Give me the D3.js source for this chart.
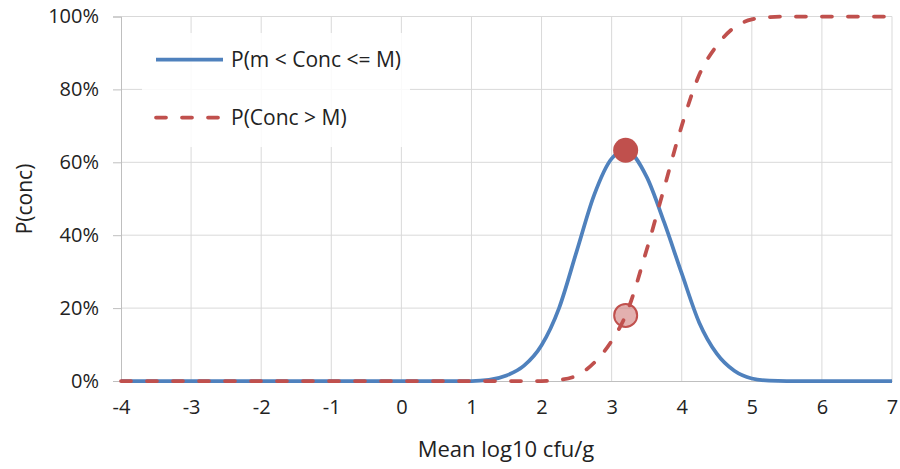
<!DOCTYPE html>
<html>
<head>
<meta charset="utf-8">
<script src="https://cdn.jsdelivr.net/npm/d3@7"></script>
<style>
  body { margin: 0; background: #fff; }
  text { font-family: "Open Sans", Lato, sans-serif; fill: #222; }
</style>
</head>
<body>
<script>
// values (x = mean log10 cfu/g, y = percent)
var xs      = [-4, 1, 1.25, 1.5, 1.75, 2, 2.25, 2.5, 2.75, 3, 3.2, 3.5, 3.75, 4, 4.25, 4.5, 4.75, 5, 5.25, 5.5, 7];
var pInside = [0, 0, 0.3, 1.5, 4.2, 9.8, 20, 35.5, 51, 61, 63.3, 56, 43.5, 29.5, 16, 7.5, 2.8, 0.7, 0.1, 0, 0];
var pAbove  = [0, 0, 0, 0, 0, 0, 0.3, 1.5, 5, 11, 18, 36, 53, 70, 84, 92, 97, 99.2, 99.8, 100, 100];
var seriesNames = ['P(m < Conc <= M)', 'P(Conc > M)'];
var xTicks = [-4, -3, -2, -1, 0, 1, 2, 3, 4, 5, 6, 7];
var yTicks = [0, 20, 40, 60, 80, 100];
var markX = [3.2, 3.2];
var markY = [63.3, 18];

var width = 900, height = 469;
var blue = '#4f81bd', red = '#c0504d';

var svg = d3.select('body').append('svg')
  .attr('width', width)
  .attr('height', height);

var x = d3.scaleLinear().domain([-4, 7]).range([121, 892]);
var y = d3.scaleLinear().domain([0, 100]).range([381, 16.5]);

// grid
svg.append('g').selectAll('line.v')
  .data(xTicks.slice(1))
  .enter().append('line')
  .attr('x1', function(d){ return x(d); })
  .attr('x2', function(d){ return x(d); })
  .attr('y1', y(100)).attr('y2', y(0))
  .attr('stroke', '#d9d9d9').attr('stroke-width', 1);

svg.append('g').selectAll('line.h')
  .data(yTicks.slice(1))
  .enter().append('line')
  .attr('x1', x(-4)).attr('x2', x(7))
  .attr('y1', function(d){ return y(d); })
  .attr('y2', function(d){ return y(d); })
  .attr('stroke', '#d9d9d9').attr('stroke-width', 1);

// y axis
var yAxis = d3.axisLeft(y).tickValues(yTicks)
  .tickFormat(function(d){ return d + '%'; })
  .tickSize(8).tickPadding(14);
var gy = svg.append('g').attr('transform', 'translate(' + x(-4) + ',0)').call(yAxis);
gy.select('.domain').attr('stroke', '#bfbfbf');
gy.selectAll('.tick line').attr('stroke', '#bfbfbf');
gy.selectAll('text').style('font-size', '20px').attr('fill', '#222');

// x axis (plain hyphen for negatives, like the original)
var xAxis = d3.axisBottom(x).tickValues(xTicks)
  .tickFormat(function(d){ return String(d); })
  .tickSize(0).tickPadding(19);
var gx = svg.append('g').attr('transform', 'translate(0,' + y(0) + ')').call(xAxis);
gx.select('.domain').attr('stroke', '#bfbfbf');
gx.selectAll('text').style('font-size', '20px').attr('fill', '#222');

// legend box (semi-opaque, like the excel plot area legend)
svg.append('rect')
  .attr('x', 142).attr('y', 33).attr('width', 268).attr('height', 114)
  .attr('fill', '#fff').attr('opacity', 0.85);

var line = d3.line()
  .x(function(d){ return x(d[0]); })
  .y(function(d){ return y(d[1]); })
  .curve(d3.curveMonotoneX);

svg.append('path')
  .datum(xs.map(function(v, i){ return [v, pInside[i]]; }))
  .attr('d', line)
  .attr('fill', 'none').attr('stroke', blue).attr('stroke-width', 3.75)
  .attr('stroke-linejoin', 'round');

svg.append('path')
  .datum(xs.map(function(v, i){ return [v, pAbove[i]]; }))
  .attr('d', line)
  .attr('fill', 'none').attr('stroke', red).attr('stroke-width', 3.75)
  .attr('stroke-dasharray', '10,16').attr('stroke-linecap', 'round');

// markers
svg.append('circle')
  .attr('cx', x(markX[0])).attr('cy', y(markY[0])).attr('r', 12.5)
  .attr('fill', red);
svg.append('circle')
  .attr('cx', x(markX[1])).attr('cy', y(markY[1])).attr('r', 11.5)
  .attr('fill', red).attr('fill-opacity', 0.45)
  .attr('stroke', red).attr('stroke-width', 2);

// legend
var leg = svg.append('g');
leg.append('line').attr('x1', 156).attr('x2', 223).attr('y1', 59.5).attr('y2', 59.5)
  .attr('stroke', blue).attr('stroke-width', 3.75);
leg.append('line').attr('x1', 156).attr('x2', 223).attr('y1', 117.5).attr('y2', 117.5)
  .attr('stroke', red).attr('stroke-width', 3.75)
  .attr('stroke-dasharray', '10,16').attr('stroke-linecap', 'round');
leg.selectAll('text').data(seriesNames).enter().append('text')
  .attr('x', 231)
  .attr('y', function(d, i){ return 67 + i * 58; })
  .style('font-size', '21px')
  .text(function(d){ return d; });

// axis titles
svg.append('text')
  .attr('transform', 'translate(32,199) rotate(-90)')
  .attr('text-anchor', 'middle')
  .style('font-size', '21px')
  .text('P(conc)');

svg.append('text')
  .attr('x', 506).attr('y', 457)
  .attr('text-anchor', 'middle')
  .style('font-size', '22px')
  .text('Mean log10 cfu/g');
</script>
</body>
</html>
